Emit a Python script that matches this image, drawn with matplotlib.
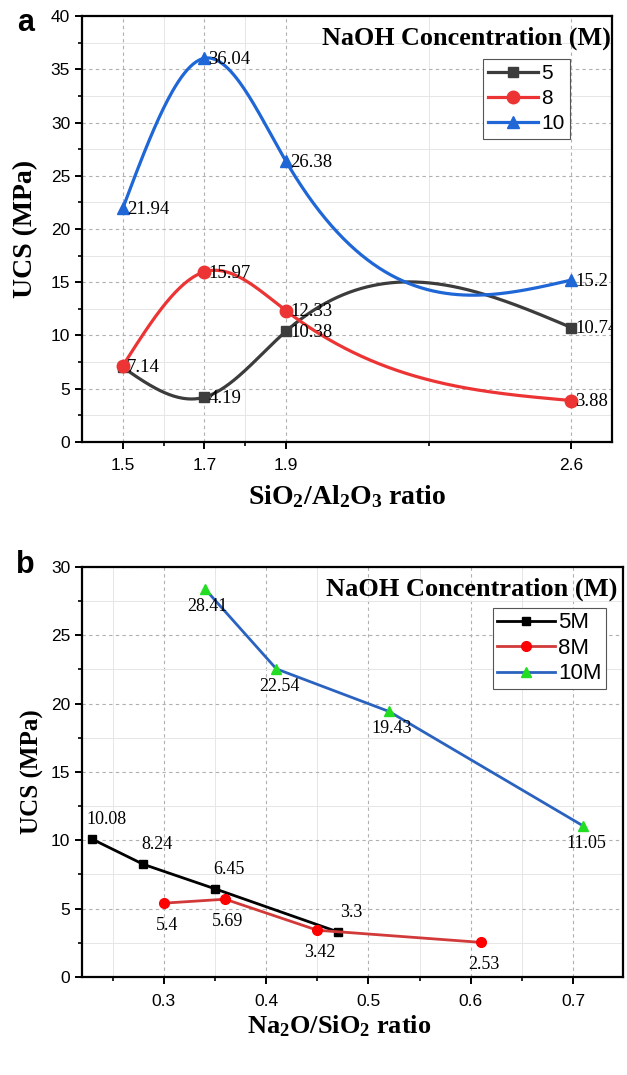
import matplotlib.pyplot as plt
import numpy as np

# panel a data
ratio_a = [1.5, 1.7, 1.9, 2.6]
ucs_a_5 = [7.0, 4.19, 10.38, 10.74]
ucs_a_8 = [7.14, 15.97, 12.33, 3.88]
ucs_a_10 = [21.94, 36.04, 26.38, 15.2]
lab_a_5 = ['', '4.19', '10.38', '10.74']
lab_a_8 = ['7.14', '15.97', '12.33', '3.88']
lab_a_10 = ['21.94', '36.04', '26.38', '15.2']

# panel b data
x_b_5 = [0.23, 0.28, 0.35, 0.47]
ucs_b_5 = [10.08, 8.24, 6.45, 3.3]
x_b_8 = [0.30, 0.36, 0.45, 0.61]
ucs_b_8 = [5.4, 5.69, 3.42, 2.53]
x_b_10 = [0.34, 0.41, 0.52, 0.71]
ucs_b_10 = [28.41, 22.54, 19.43, 11.05]

serif = 'Liberation Serif'
sans = 'Liberation Sans'
plt.rcParams['font.family'] = sans
plt.rcParams['mathtext.fontset'] = 'custom'
plt.rcParams['mathtext.rm'] = 'Liberation Serif:bold'
plt.rcParams['mathtext.it'] = 'Liberation Serif:bold'
plt.rcParams['mathtext.bf'] = 'Liberation Serif:bold'


def natural_spline(x, y, n=300):
    x = np.asarray(x, float)
    y = np.asarray(y, float)
    k = len(x)
    h = np.diff(x)
    A = np.zeros((k, k))
    r = np.zeros(k)
    A[0, 0] = A[-1, -1] = 1
    for i in range(1, k - 1):
        A[i, i - 1] = h[i - 1]
        A[i, i] = 2 * (h[i - 1] + h[i])
        A[i, i + 1] = h[i]
        r[i] = 3 * ((y[i + 1] - y[i]) / h[i] - (y[i] - y[i - 1]) / h[i - 1])
    c = np.linalg.solve(A, r)
    xs = np.linspace(x[0], x[-1], n)
    idx = np.clip(np.searchsorted(x, xs) - 1, 0, k - 2)
    dx = xs - x[idx]
    hi = h[idx]
    b = (y[idx + 1] - y[idx]) / hi - hi * (2 * c[idx] + c[idx + 1]) / 3
    d = (c[idx + 1] - c[idx]) / (3 * hi)
    return xs, y[idx] + b * dx + c[idx] * dx ** 2 + d * dx ** 3


def style_axes(ax):
    for s in ax.spines.values():
        s.set_linewidth(1.6)
    ax.tick_params(which='major', direction='out', length=5, width=1.4, labelsize=12.5)
    ax.tick_params(axis='x', which='major', pad=7)
    ax.tick_params(which='minor', direction='out', length=3, width=1.2)
    ax.grid(True, which='major', linestyle=(0, (3, 3)), color='#b0b0b0', linewidth=0.8)
    ax.grid(True, which='minor', linestyle='-', color='#e6e6e6', linewidth=0.7)
    ax.set_axisbelow(True)


fig = plt.figure(figsize=(6.27, 10.75), dpi=100)

# ---- panel a ----
ax1 = fig.add_axes([0.1308, 0.589, 0.8453, 0.396])
series_a = [(ucs_a_5, '#3c3c3c', 's', '5', lab_a_5, 7.5),
            (ucs_a_8, '#ec3434', 'o', '8', lab_a_8, 9),
            (ucs_a_10, '#1f66d6', '^', '10', lab_a_10, 9)]
for yv, col, mk, name, labs, ms in series_a:
    xs, ys = natural_spline(ratio_a, yv)
    ax1.plot(xs, ys, color=col, lw=2.3)
    ax1.plot(ratio_a, yv, color=col, lw=0, marker=mk, ms=ms)
    ax1.plot([], [], color=col, lw=2.3, marker=mk, ms=ms, label=name)
    for xv, v, t in zip(ratio_a, yv, labs):
        ax1.annotate(t, (xv, v), xytext=(3, -1), textcoords='offset points',
                     fontsize=13.5, family=serif, va='center', ha='left',
                     annotation_clip=False, clip_on=True)
ax1.set_xlim(1.4, 2.7)
ax1.set_ylim(0, 40)
ax1.set_xticks(ratio_a)
ax1.set_xticklabels(['1.5', '1.7', '1.9', '2.6'])
ax1.set_xticks([1.6, 1.8, 2.25], minor=True)
ax1.set_yticks(np.arange(0, 41, 5))
ax1.set_yticks(np.arange(2.5, 40, 5), minor=True)
style_axes(ax1)
ax1.set_xlabel('SiO$_2$/Al$_2$O$_3$ ratio', family=serif, fontweight='bold', fontsize=20)
ax1.xaxis.set_label_coords(0.5, -0.097)
ax1.set_ylabel('UCS (MPa)', family=serif, fontweight='bold', fontsize=20)
ax1.yaxis.set_label_coords(-0.083, 0.5)
ax1.text(0.998, 0.948, 'NaOH Concentration (M)', transform=ax1.transAxes, ha='right', va='center',
         family=serif, fontweight='bold', fontsize=18.8)
leg1 = ax1.legend(loc='upper left', bbox_to_anchor=(0.7566, 0.9), fontsize=15, fancybox=False,
                  edgecolor='#555555', handlelength=2.4, handletextpad=0.15, borderpad=0.25,
                  labelspacing=0.3, framealpha=1, borderaxespad=0)
leg1.get_frame().set_linewidth(0.8)
fig.text(0.027, 0.993, 'a', fontsize=22, fontweight='bold', va='top')

# ---- panel b ----
ax2 = fig.add_axes([0.1308, 0.0912, 0.863, 0.3814])
series_b = [(x_b_5, ucs_b_5, 'black', 'black', 's', '5M', 6),
            (x_b_8, ucs_b_8, '#d23a3a', 'red', 'o', '8M', 7),
            (x_b_10, ucs_b_10, '#2a62c0', '#22dd22', '^', '10M', 7)]
for xv, yv, col, mcol, mk, name, ms in series_b:
    ax2.plot(xv, yv, color=col, lw=2.0, marker=mk, ms=ms, mfc=mcol, mec=mcol, label=name)
for xv, v in zip(x_b_5, ucs_b_5):
    ax2.annotate(f'{v:g}', (xv, v), xytext=(10, 14), textcoords='offset points',
                 fontsize=13, family=serif, ha='center', va='center')
for xv, v in zip(x_b_8, ucs_b_8):
    ax2.annotate(f'{v:g}', (xv, v), xytext=(2, -16), textcoords='offset points',
                 fontsize=13, family=serif, ha='center', va='center')
for xv, v in zip(x_b_10, ucs_b_10):
    ax2.annotate(f'{v:g}', (xv, v), xytext=(2, -12.5), textcoords='offset points',
                 fontsize=13, family=serif, ha='center', va='center')
ax2.set_xlim(0.22, 0.749)
ax2.set_ylim(0, 30)
ax2.set_xticks([0.3, 0.4, 0.5, 0.6, 0.7])
ax2.set_xticks([0.25, 0.35, 0.45, 0.55, 0.65], minor=True)
ax2.set_yticks(np.arange(0, 31, 5))
ax2.set_yticks(np.arange(2.5, 30, 5), minor=True)
style_axes(ax2)
ax2.set_xlabel('Na$_2$O/SiO$_2$ ratio', family=serif, fontweight='bold', fontsize=19)
ax2.xaxis.set_label_coords(0.475, -0.088)
ax2.set_ylabel('UCS (MPa)', family=serif, fontweight='bold', fontsize=18)
ax2.yaxis.set_label_coords(-0.07, 0.5)
ax2.text(0.99, 0.945, 'NaOH Concentration (M)', transform=ax2.transAxes, ha='right', va='center',
         family=serif, fontweight='bold', fontsize=19)
leg2 = ax2.legend(loc='upper left', bbox_to_anchor=(0.759, 0.9), fontsize=16, fancybox=False,
                  edgecolor='#555555', handlelength=2.6, handletextpad=0.15, borderpad=0.2,
                  labelspacing=0.2, framealpha=1, borderaxespad=0)
leg2.get_frame().set_linewidth(0.8)
fig.text(0.026, 0.4744, 'b', fontsize=22, fontweight='bold', va='center')

fig.savefig('out.png', dpi=100)
